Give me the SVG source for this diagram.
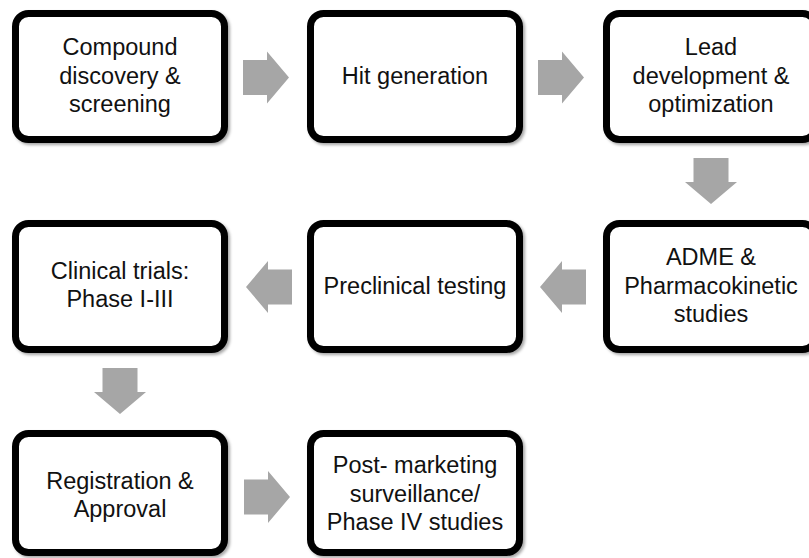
<svg xmlns="http://www.w3.org/2000/svg" xmlns:xlink="http://www.w3.org/1999/xlink" width="809" height="558" viewBox="0 0 809 558">
<style>
.box{fill:#fff;stroke:#000;stroke-width:7;filter:url(#sh)}
.t{font-family:"Liberation Sans",Arial,sans-serif;font-size:23.5px;fill:#111;text-anchor:middle}
.arr{fill:#a6a6a6}
</style>
<defs>
<filter id="sh" x="-10%" y="-10%" width="125%" height="125%">
<feDropShadow dx="2" dy="2" stdDeviation="1.8" flood-color="#000" flood-opacity="0.35"/>
</filter>
<path id="ar" d="M-23,-17.5 H1 V-26 L23,0 L1,26 V17.5 H-23 Z"/>
</defs>
<rect width="809" height="558" fill="#fff"/>
<g id="connectors" class="arr">
<use xlink:href="#ar" transform="translate(266,77.5)"/>
<use xlink:href="#ar" transform="translate(561,77.5)"/>
<use xlink:href="#ar" transform="translate(711,181) rotate(90)"/>
<use xlink:href="#ar" transform="translate(563,287) rotate(180)"/>
<use xlink:href="#ar" transform="translate(269,287) rotate(180)"/>
<use xlink:href="#ar" transform="translate(120,391) rotate(90)"/>
<use xlink:href="#ar" transform="translate(267,497)"/>
</g>
<g id="n1"><rect class="box" x="15.5" y="13.5" width="209" height="126" rx="13"/>
<text class="t" x="120" y="55">Compound</text><text class="t" x="120" y="83.5">discovery &amp;</text><text class="t" x="120" y="112">screening</text></g>
<g id="n2"><rect class="box" x="310.5" y="13.5" width="209" height="126" rx="13"/>
<text class="t" x="415" y="84">Hit generation</text></g>
<g id="n3"><rect class="box" x="606.5" y="13.5" width="209" height="126" rx="13"/>
<text class="t" x="711" y="55">Lead</text><text class="t" x="711" y="83.5">development &amp;</text><text class="t" x="711" y="112">optimization</text></g>
<g id="n4"><rect class="box" x="606.5" y="223.5" width="209" height="126" rx="13"/>
<text class="t" x="711" y="265">ADME &amp;</text><text class="t" x="711" y="294">Pharmacokinetic</text><text class="t" x="711" y="322">studies</text></g>
<g id="n5"><rect class="box" x="310.5" y="223.5" width="209" height="126" rx="13"/>
<text class="t" x="415" y="294">Preclinical testing</text></g>
<g id="n6"><rect class="box" x="15.5" y="223.5" width="209" height="126" rx="13"/>
<text class="t" x="120" y="279">Clinical trials:</text><text class="t" x="120" y="307">Phase I-III</text></g>
<g id="n7"><rect class="box" x="15.5" y="433.5" width="209" height="119" rx="13"/>
<text class="t" x="120" y="489">Registration &amp;</text><text class="t" x="120" y="517">Approval</text></g>
<g id="n8"><rect class="box" x="310.5" y="433.5" width="209" height="119" rx="13"/>
<text class="t" x="415" y="473">Post- marketing</text><text class="t" x="415" y="502">surveillance/</text><text class="t" x="415" y="530">Phase IV studies</text></g>
</svg>
